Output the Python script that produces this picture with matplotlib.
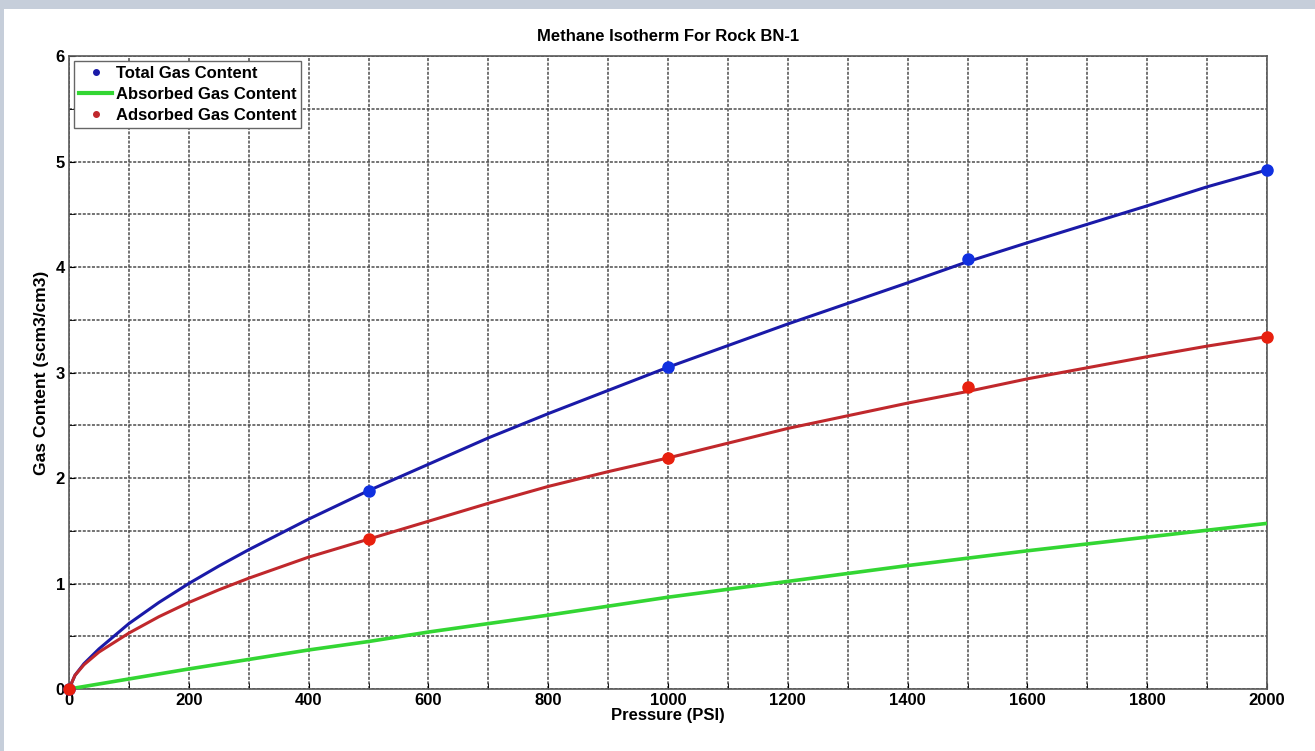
import numpy as np
import matplotlib.pyplot as plt
from matplotlib.ticker import MultipleLocator
from matplotlib.patches import Rectangle

# measured points (markers)
p_meas = [0, 500, 1000, 1500, 2000]
total_meas = [0, 1.88, 3.05, 4.08, 4.92]
adsorbed_meas = [0, 1.42, 2.19, 2.86, 3.34]

# fitted curves
p_curve = [0, 10, 25, 50, 100, 150, 200, 250, 300, 400, 500, 600, 700, 800, 900,
           1000, 1200, 1400, 1500, 1600, 1800, 1900, 2000]
total_curve = [0, 0.13, 0.24, 0.38, 0.62, 0.82, 1.0, 1.165, 1.32, 1.61, 1.88, 2.13, 2.38,
               2.61, 2.83, 3.05, 3.46, 3.85, 4.05, 4.23, 4.58, 4.76, 4.92]
adsorbed_curve = [0, 0.13, 0.23, 0.35, 0.53, 0.685, 0.82, 0.94, 1.05, 1.25, 1.42, 1.59, 1.76,
                  1.92, 2.06, 2.19, 2.47, 2.71, 2.82, 2.94, 3.15, 3.25, 3.34]
absorbed_p = [0, 200, 400, 500, 600, 800, 1000, 1200, 1400, 1600, 1800, 2000]
absorbed_curve = [0, 0.19, 0.37, 0.45, 0.54, 0.70, 0.87, 1.02, 1.17, 1.31, 1.44, 1.57]

plt.rcParams['font.family'] = ['Liberation Sans', 'DejaVu Sans']
plt.rcParams['font.weight'] = 'bold'

fig = plt.figure(figsize=(13.15, 7.51), dpi=100, facecolor='white')
# grey-blue frame strips on top and left
fig.patches.append(Rectangle((0, 1 - 9/751), 1, 9/751, transform=fig.transFigure,
                             facecolor='#c6ceda', edgecolor='none', zorder=-1))
fig.patches.append(Rectangle((0, 0), 4/1315, 1, transform=fig.transFigure,
                             facecolor='#c6ceda', edgecolor='none', zorder=-1))

ax = fig.add_axes([69/1315, 1 - 689/751, 1198/1315, 633/751])

ax.plot(p_curve, total_curve, color='#1a1aa8', lw=2.2, zorder=3)
ax.plot(absorbed_p, absorbed_curve, color='#33d633', lw=2.6, zorder=3)
ax.plot(p_curve, adsorbed_curve, color='#c0282c', lw=2.2, zorder=3)
ax.plot(p_meas, total_meas, 'o', color='#1030e0', ms=8, zorder=4, clip_on=False)
ax.plot(p_meas, adsorbed_meas, 'o', color='#e8200e', ms=8, zorder=5, clip_on=False)

# legend proxies
h1, = ax.plot([], [], '.', color='#1a1aa8', ms=8, label='Total Gas Content')
h2, = ax.plot([], [], '-', color='#33d633', lw=3, label='Absorbed Gas Content')
h3, = ax.plot([], [], '.', color='#c0282c', ms=8, label='Adsorbed Gas Content')
leg = ax.legend(handles=[h1, h2, h3], loc='upper left', fontsize=12, fancybox=False,
                framealpha=1, edgecolor='0.4', borderaxespad=0.3, handlelength=2.0,
                handletextpad=0.2, labelspacing=0.35, borderpad=0.3)
leg.get_frame().set_linewidth(1.0)

ax.set_xlim(0, 2000)
ax.set_ylim(0, 6)
ax.xaxis.set_major_locator(MultipleLocator(200))
ax.xaxis.set_minor_locator(MultipleLocator(100))
ax.yaxis.set_major_locator(MultipleLocator(1))
ax.yaxis.set_minor_locator(MultipleLocator(0.5))
ax.grid(True, which='both', color='0.3', linestyle=(0, (2, 1)), lw=1.1)
ax.set_axisbelow(True)
ax.tick_params(which='both', direction='in', labelsize=12, length=4, pad=3)
for s in ax.spines.values():
    s.set_color('0.35')
    s.set_linewidth(1.2)

ax.set_title('Methane Isotherm For Rock BN-1', fontsize=12, fontweight='bold', pad=11)
ax.set_xlabel('Pressure (PSI)', fontsize=12, fontweight='bold', labelpad=0)
ax.set_ylabel('Gas Content (scm3/cm3)', fontsize=12.5, fontweight='bold', labelpad=5)

plt.savefig('out.png', dpi=100)
